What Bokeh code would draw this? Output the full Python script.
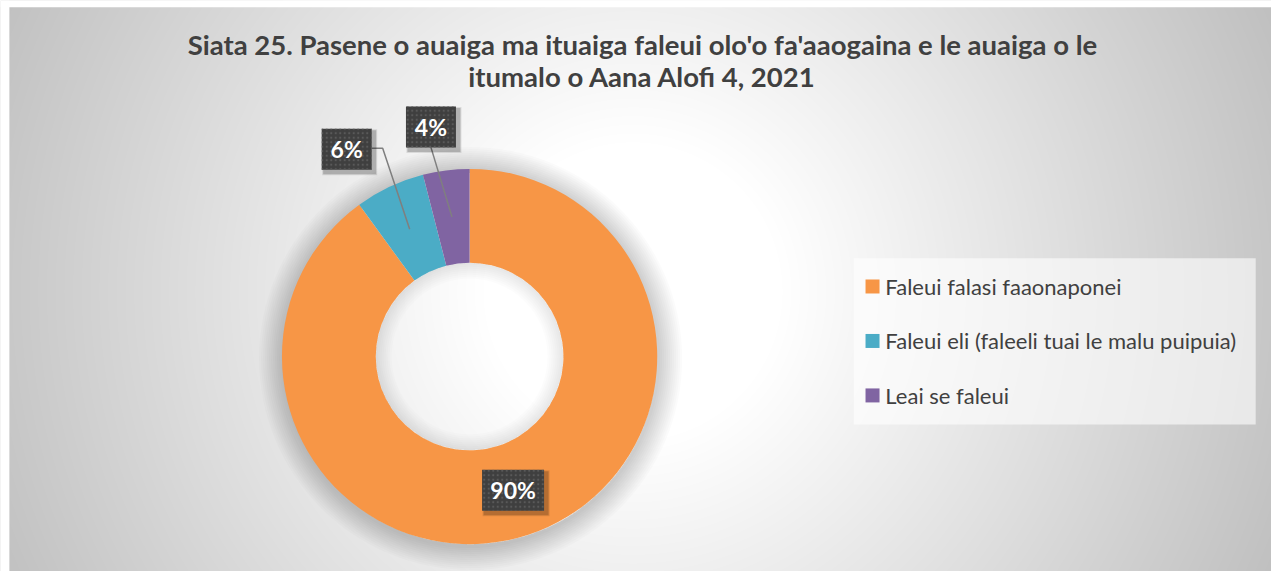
import numpy as np
from bokeh.plotting import figure
from bokeh.models import ColumnDataSource, Range1d
from bokeh.core.properties import value
from bokeh.embed import file_html
from bokeh.resources import INLINE

# ---------------- data ----------------
categories = ["Faleui falasi faaonaponei",
              "Faleui eli (faleeli tuai le malu puipuia)",
              "Leai se faleui"]
shares = [90, 6, 4]
pct_labels = ["90%", "6%", "4%"]
colors = ["#F79646", "#4BACC6", "#8064A2"]
title_lines = ["Siata 25. Pasene o auaiga ma ituaiga faleui olo'o fa'aaogaina e le auaiga o le",
               "itumalo o Aana Alofi 4, 2021"]

# ---------------- layout ----------------
W, H = 1271, 571
KX, KY = W / 1287.0, H / 587.0
def X(sx):
    return sx * KX
def Y(sy):
    return H - sy * KY

p = figure(width=W, height=H, x_range=Range1d(0, W), y_range=Range1d(0, H),
           output_backend="svg", toolbar_location=None, min_border=0)
p.axis.visible = False
p.grid.visible = False
p.outline_line_color = None
p.border_fill_color = "white"
p.background_fill_color = "white"

# background radial gradient
yy, xx = np.mgrid[0:H, 0:W]
gx, gy = X(640), Y(300)
d = np.sqrt((xx - gx) ** 2 + (yy - gy) ** 2)
c = (255 - 63 * np.clip((d - 150) / 550.0, 0, 1)).astype(np.uint32)
img = (255 << 24) | (c << 16) | (c << 8) | c
p.image_rgba(image=[img.astype(np.uint32)], x=0, y=0, dw=W, dh=H)
# white strips of the outer margin (left / top)
p.quad(left=0, right=X(9), bottom=0, top=H, fill_color="white", line_color=None)
p.quad(left=0, right=W, bottom=Y(7), top=H, fill_color="white", line_color=None)

# donut geometry
cx, cy = X(475), Y(366)
r_out, r_in = 190 * KX, 95 * KX
tot = float(sum(shares))
cum = np.concatenate([[0], np.cumsum(shares)]) / tot
start = np.pi / 2 - 2 * np.pi * cum[:-1]
end = np.pi / 2 - 2 * np.pi * cum[1:]
mid = (start + end) / 2
r_mid = (r_out + r_in) / 2
ax = cx + r_mid * np.cos(mid)
ay = cy + r_mid * np.sin(mid)

# soft shadow around donut
for k in range(12):
    p.annulus(x=cx + 1, y=cy - 2, inner_radius=r_out - 2, outer_radius=r_out + 2 + 2 * k,
              fill_color="black", fill_alpha=0.017, line_color=None)

src = ColumnDataSource(dict(start=start, end=end, color=colors, cat=categories))
p.annular_wedge(x=cx, y=cy, inner_radius=r_in, outer_radius=r_out,
                start_angle="start", end_angle="end", direction="clock",
                fill_color="color", line_color=None, source=src)

# soft inner shadow in the hole
for k in range(8):
    p.annulus(x=cx, y=cy, inner_radius=r_in - 2 - 2 * k, outer_radius=r_in,
              fill_color="black", fill_alpha=0.012, line_color=None)

# data labels
label_offsets = [(0, 0), (-63, 80), (-21, 90)]
box_w = [62, 50, 50]
box_h = 41
lx = ax + np.array([o[0] for o in label_offsets])
ly = ay + np.array([o[1] for o in label_offsets])

# leader lines for moved labels
p.line(x=[lx[1] + box_w[1] / 2, lx[1] + box_w[1] / 2 + 11, ax[1]],
       y=[ly[1] + 1, ly[1] + 1, ay[1]], line_color="#7f7f7f", line_width=1.5)
p.line(x=[lx[2], ax[2]], y=[ly[2] - box_h / 2, ay[2]], line_color="#7f7f7f", line_width=1.5)

for s, a in [(5, 0.10), (3, 0.18)]:
    p.rect(x=lx + 3, y=ly - 3, width=np.array(box_w) + s, height=box_h + s,
           fill_color="black", fill_alpha=a, line_color=None)
p.rect(x=lx, y=ly, width=box_w, height=box_h, fill_color="#3f3f3f", line_color=None,
       hatch_pattern="dot", hatch_color="#595959", hatch_scale=4.5, hatch_weight=1.5)
p.text(x=lx, y=ly, text=pct_labels, text_color="white", text_font=value("Lato"),
       text_font_style="bold", text_font_size="23px", text_align="center",
       text_baseline="middle")

# title
p.text(x=[X(650), X(650)], y=[Y(45), Y(78)], text=title_lines, text_color="#404040",
       text_font=value("Lato"), text_font_style="bold", text_font_size="27.5px",
       text_align="center", text_baseline="middle")

# legend
p.quad(left=X(864), right=X(1271), top=Y(265), bottom=Y(436),
       fill_color="white", fill_alpha=0.6, line_color=None)
leg_y = [Y(294), Y(350), Y(406)]
p.rect(x=[X(883)] * 3, y=leg_y, width=14, height=14, fill_color=colors, line_color=None)
p.text(x=[X(896)] * 3, y=leg_y, text=categories, text_color="#404040",
       text_font=value("Lato"), text_font_size="22px", text_align="left",
       text_baseline="middle")

open("out.html", "w").write(file_html(p, INLINE))
